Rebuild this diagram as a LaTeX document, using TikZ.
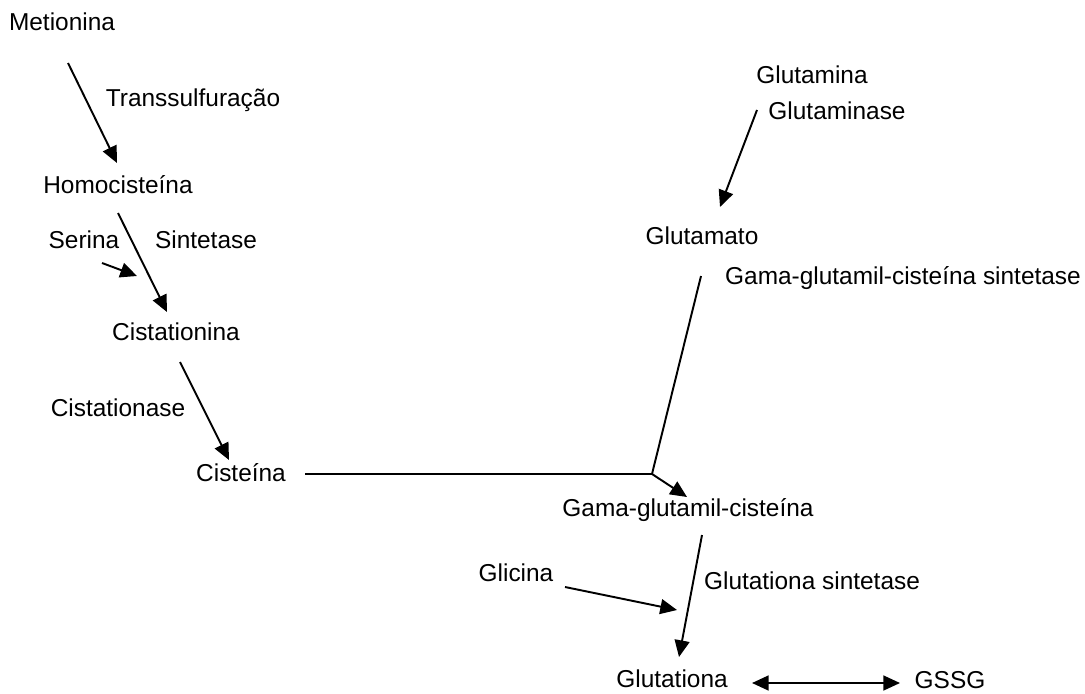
\documentclass[tikz,border=0pt]{standalone}
\usepackage{fontspec}
\setmainfont{Liberation Sans}
\usetikzlibrary{arrows.meta}

\begin{document}
\begin{tikzpicture}[x=0.02cm, y=-0.02cm,
    lbl/.style={inner sep=0pt, text height=0.72em, text depth=0pt, font=\fontsize{13.9pt}{16pt}\selectfont},
    seta/.style={-{Triangle[length=9.5pt,width=8.5pt]}, line width=1.1pt},
    setadupla/.style={{Triangle[length=9.5pt,width=8.5pt]}-{Triangle[length=9.5pt,width=8.5pt]}, line width=1.1pt},
    linha/.style={line width=1.1pt}]
    \useasboundingbox (0,0) rectangle (1085,693);

    % Compounds and enzymes
    \node[lbl] (met) at (62,24) {Metionina};
    \node[lbl] (trans) at (193,100) {Transsulfuração};
    \node[lbl] (homo) at (118,187) {Homocisteína};
    \node[lbl] (ser) at (84,242) {Serina};
    \node[lbl] (sint) at (206,242) {Sintetase};
    \node[lbl] (cist) at (176,334) {Cistationina};
    \node[lbl] (cistase) at (118,410) {Cistationase};
    \node[lbl] (cis) at (241,475) {Cisteína};
    \node[lbl] (glna) at (812,77) {Glutamina};
    \node[lbl] (glnase) at (837,113) {Glutaminase};
    \node[lbl] (glu) at (702,238) {Glutamato};
    \node[lbl] (gcs) at (903,278) {Gama-glutamil-cisteína sintetase};
    \node[lbl] (gglc) at (688,510) {Gama-glutamil-cisteína};
    \node[lbl] (gli) at (516,575) {Glicina};
    \node[lbl] (gs) at (812,583) {Glutationa sintetase};
    \node[lbl] (gsh) at (672,681) {Glutationa};
    \node[lbl] (gssg) at (950,682) {GSSG};

    % Arrow ends
    \coordinate (met-a) at (68,63);
    \coordinate (homo-b) at (117,163);
    \coordinate (homo-a) at (118,213);
    \coordinate (cist-b) at (167,312);
    \coordinate (ser-a) at (102,263);
    \coordinate (ser-b) at (137,276);
    \coordinate (cist-a) at (180,362);
    \coordinate (cis-b) at (229,460);
    \coordinate (cis-a) at (305,474);
    \coordinate (juncao) at (652,474);
    \coordinate (glu-a) at (701,276);
    \coordinate (gglc-b) at (687,497);
    \coordinate (glna-a) at (757,110);
    \coordinate (glu-b) at (720,207);
    \coordinate (gglc-a) at (702,535);
    \coordinate (gsh-b) at (679,657);
    \coordinate (gli-a) at (565,587);
    \coordinate (gli-b) at (677,610);
    \coordinate (gsh-a) at (752,683);
    \coordinate (gssg-a) at (900,683);

    % Draw arrows
    \draw[seta] (met-a) -- (homo-b);
    \draw[seta] (homo-a) -- (cist-b);
    \draw[seta] (ser-a) -- (ser-b);
    \draw[seta] (cist-a) -- (cis-b);
    \draw[seta] (glna-a) -- (glu-b);
    \draw[linha] (cis-a) -- (juncao) -- (glu-a);
    \draw[seta] (juncao) -- (gglc-b);
    \draw[seta] (gglc-a) -- (gsh-b);
    \draw[seta] (gli-a) -- (gli-b);
    \draw[setadupla] (gsh-a) -- (gssg-a);
\end{tikzpicture}
\end{document}
